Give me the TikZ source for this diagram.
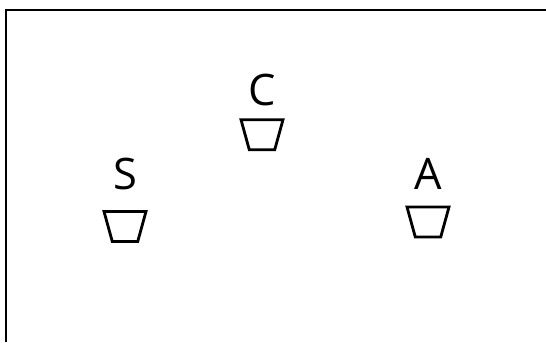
\documentclass[tikz,border=0pt]{standalone}
\usepackage{fontspec}
\setmainfont{Open Sans}
\usetikzlibrary{shapes.geometric,positioning}

\begin{document}
\begin{tikzpicture}[x=0.02cm, y=-0.02cm, node distance=0.3cm,
    pot/.style={draw=black, line width=1.6pt, trapezium, shape border rotate=180,
        trapezium angle=72, trapezium stretches=true, minimum width=0.84cm,
        minimum height=0.6cm, inner sep=1pt},
    potlabel/.style={inner sep=0pt, anchor=south, font=\fontsize{24.7}{28}\selectfont}]
    \useasboundingbox (0,0) rectangle (546,342);
    % frame
    \draw [line width=1.6pt] (6,342) -- (6,10) -- (546,10);
    % pots
    \node(potS) [pot] at (125,226.5) {};
    \node(potC) [pot] at (262,134.7) {};
    \node(potA) [pot] at (428,222)   {};
    % labels
    \node(S) [potlabel, above=0.40cm of potS] {S};
    \node(C) [potlabel, above=0.25cm of potC] {C};
    \node(A) [potlabel, above=0.32cm of potA] {A};
\end{tikzpicture}
\end{document}
